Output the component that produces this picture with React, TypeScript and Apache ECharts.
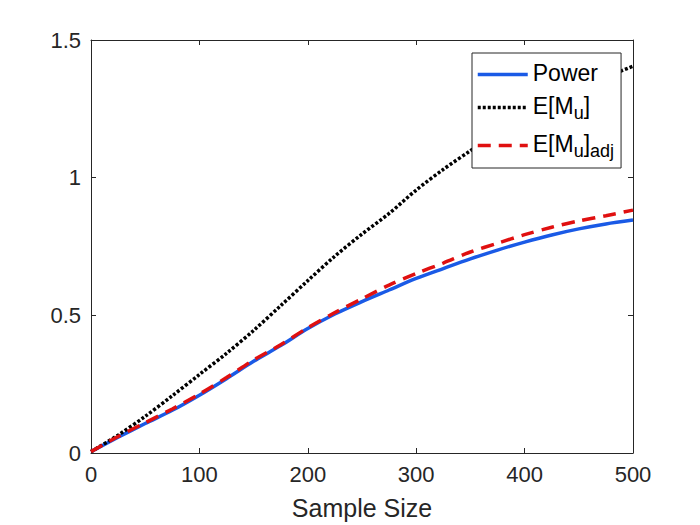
import React, { useEffect, useRef } from "react";
import * as echarts from "echarts";

const sampleSizes = [0, 25, 50, 75, 100, 125, 150, 175, 200, 225, 250, 275, 300, 325, 350, 375, 400, 425, 450, 475, 500];
const power = [0.005, 0.057, 0.107, 0.155, 0.21, 0.27, 0.333, 0.39, 0.452, 0.505, 0.55, 0.592, 0.634, 0.67, 0.705, 0.737, 0.766, 0.792, 0.814, 0.832, 0.846];
const expectedMu = [0.005, 0.065, 0.133, 0.208, 0.285, 0.362, 0.445, 0.535, 0.626, 0.715, 0.795, 0.87, 0.955, 1.03, 1.098, 1.165, 1.225, 1.275, 1.32, 1.365, 1.405];
const expectedMuAdj = [0.005, 0.06, 0.11, 0.16, 0.214, 0.274, 0.338, 0.393, 0.455, 0.51, 0.56, 0.61, 0.652, 0.69, 0.73, 0.762, 0.793, 0.82, 0.843, 0.862, 0.882];
const seriesNames = ["Power", "E[Mu]", "E[Mu]adj"];
const xLabel = "Sample Size";

const FONT = "'Liberation Sans', Arial, Helvetica, sans-serif";
const AXIS_COLOR = "#262626";

function pairs(values: number[]) {
  return sampleSizes.map((x, i) => [x, values[i]]);
}

export default function App() {
  const ref = useRef<HTMLDivElement>(null);
  useEffect(() => {
    if (!ref.current) return;
    const chart = echarts.init(ref.current, undefined, { renderer: "svg" });
    const axisLine = () => ({ show: true, onZero: false, lineStyle: { color: AXIS_COLOR, width: 1 } });
    const axisTick = () => ({ show: true, inside: true, length: 5, lineStyle: { color: AXIS_COLOR, width: 1 } });
    chart.setOption({
      animation: false,
      backgroundColor: "#ffffff",
      grid: { left: 91, right: 67, top: 40, bottom: 72, containLabel: false },
      xAxis: [
        {
          type: "value",
          min: 0,
          max: 500,
          interval: 100,
          position: "bottom",
          axisLine: axisLine(),
          axisTick: axisTick(),
          splitLine: { show: false },
          axisLabel: { fontSize: 22, color: AXIS_COLOR, fontFamily: FONT, margin: 10 },
          name: xLabel,
          nameLocation: "middle",
          nameGap: 42,
          nameTextStyle: { fontSize: 25, color: AXIS_COLOR, fontFamily: FONT },
        },
        {
          type: "value",
          min: 0,
          max: 500,
          interval: 100,
          position: "top",
          axisLine: axisLine(),
          axisTick: axisTick(),
          splitLine: { show: false },
          axisLabel: { show: false },
        },
      ],
      yAxis: [
        {
          type: "value",
          min: 0,
          max: 1.5,
          interval: 0.5,
          position: "left",
          axisLine: axisLine(),
          axisTick: axisTick(),
          splitLine: { show: false },
          axisLabel: { fontSize: 22, color: AXIS_COLOR, fontFamily: FONT, margin: 10 },
        },
        {
          type: "value",
          min: 0,
          max: 1.5,
          interval: 0.5,
          position: "right",
          axisLine: axisLine(),
          axisTick: axisTick(),
          splitLine: { show: false },
          axisLabel: { show: false },
        },
      ],
      legend: {
        orient: "vertical",
        left: 472,
        top: 53,
        itemWidth: 50,
        itemHeight: 14,
        itemGap: 10,
        backgroundColor: "#ffffff",
        borderColor: AXIS_COLOR,
        borderWidth: 1,
        borderRadius: 0,
        padding: [8, 7, 8, 4],
        data: seriesNames,
        itemStyle: { opacity: 0 },
        lineStyle: { width: 3.5 },
        formatter: (name: string) => {
          if (name === "E[Mu]") return "{n|E[M}{s|u}{n|]}";
          if (name === "E[Mu]adj") return "{n|E[M}{s|u}{n|]}{s|adj}";
          return "{n|" + name + "}";
        },
        textStyle: {
          fontSize: 23,
          color: "#000000",
          fontFamily: FONT,
          rich: {
            n: { fontSize: 23, fontFamily: FONT, color: "#000000", lineHeight: 27, verticalAlign: "top" },
            s: { fontSize: 18, fontFamily: FONT, color: "#000000", lineHeight: 20, verticalAlign: "top", padding: [10, 0, 0, 0] },
          },
        },
      },
      series: [
        {
          name: seriesNames[0],
          type: "line",
          data: pairs(power),
          showSymbol: false,
          symbol: "none",
          smooth: 0.3,
          lineStyle: { color: "#1a5ae6", width: 3.5, type: "solid" },
          itemStyle: { color: "#1a5ae6" },
        },
        {
          name: seriesNames[1],
          type: "line",
          data: pairs(expectedMu),
          showSymbol: false,
          symbol: "none",
          smooth: 0.3,
          lineStyle: { color: "#000000", width: 3.5, type: [3, 2], cap: "butt" },
          itemStyle: { color: "#000000" },
        },
        {
          name: seriesNames[2],
          type: "line",
          data: pairs(expectedMuAdj),
          showSymbol: false,
          symbol: "none",
          smooth: 0.3,
          lineStyle: { color: "#e01010", width: 3.5, type: [13, 8], cap: "butt" },
          itemStyle: { color: "#e01010" },
        },
      ],
    });
    return () => chart.dispose();
  }, []);
  return (
    <div
      ref={ref}
      style={{ position: "fixed", left: 0, top: 0, width: 700, height: 525, background: "#fff" }}
    />
  );
}
